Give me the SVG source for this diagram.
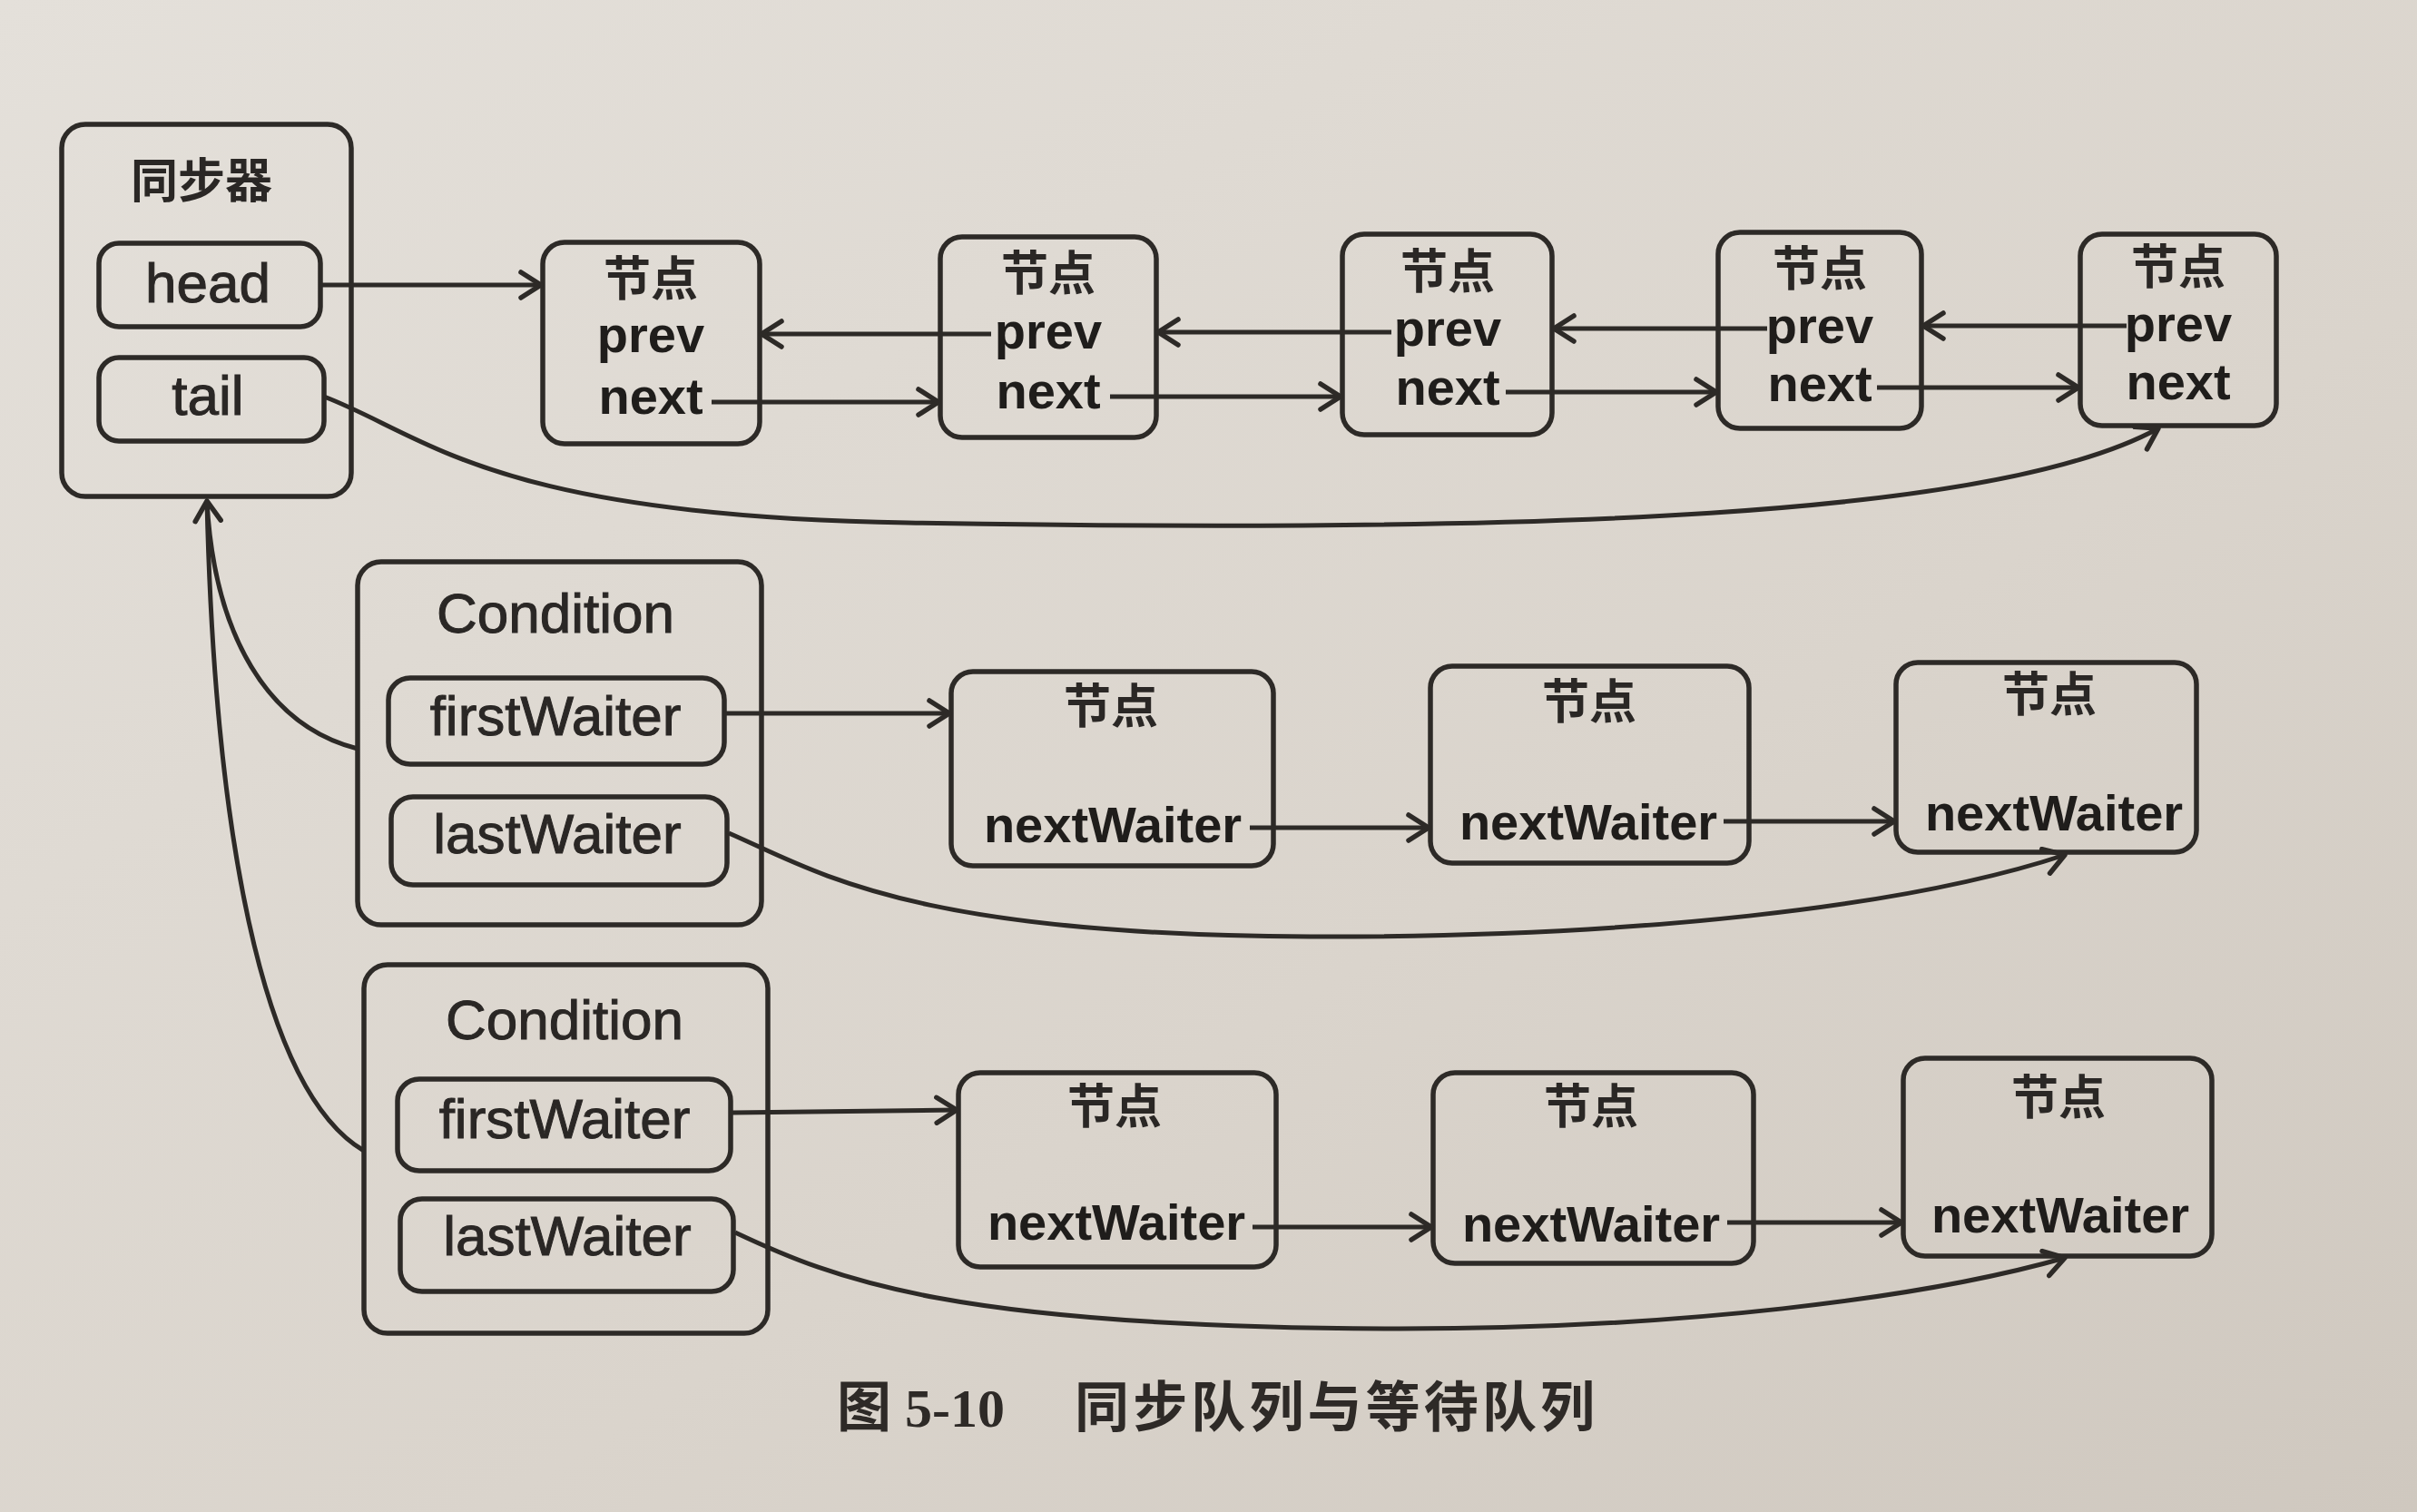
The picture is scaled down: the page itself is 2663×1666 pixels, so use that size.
<svg xmlns="http://www.w3.org/2000/svg" width="2663" height="1666" viewBox="0 0 2663 1666">
<defs>
<linearGradient id="paper" x1="0" y1="0" x2="1" y2="1">
<stop offset="0" stop-color="#e4e0da"/>
<stop offset="0.6" stop-color="#dad4cc"/>
<stop offset="1" stop-color="#cfc8bf"/>
</linearGradient>
<marker id="arr" viewBox="0 0 28 34" refX="25" refY="17" markerWidth="28" markerHeight="34" markerUnits="userSpaceOnUse" orient="auto">
<path d="M3,3 L25,17 L3,31" fill="none" stroke="#2d2a27" stroke-width="5.5" stroke-linecap="round" stroke-linejoin="round"/>
</marker>
<style>
.box{fill:none;stroke:#2d2a27;stroke-width:5.5}
.pill{fill:none;stroke:#2d2a27;stroke-width:5.5}
.ln{fill:none;stroke:#2d2a27;stroke-width:5}
.t{font-family:"Liberation Sans","DejaVu Sans",sans-serif;fill:#2a2725;text-anchor:middle;stroke:#2a2725;stroke-width:1}
.lbl{font-size:62px}
.b{font-family:"Liberation Sans",sans-serif;font-weight:bold;font-size:56px;fill:#1f1d1b;text-anchor:middle}
.cjk{font-family:"Noto Sans CJK SC",sans-serif;font-size:52px;font-weight:700;fill:#2a2725;text-anchor:middle}
.cap{font-family:"Liberation Serif","Noto Sans CJK SC",serif;font-size:60px;font-weight:bold;fill:#2e2a27}
</style>
</defs>
<rect x="0" y="0" width="2663" height="1666" fill="url(#paper)"/>

<g id="sync">
<rect class="box" x="68" y="137" width="319" height="410" rx="26"/>
<text class="cjk" x="222" y="218" font-size="54">同步器</text>
<rect class="pill" x="109" y="268" width="244" height="92" rx="22"/>
<text class="t lbl" x="229" y="333">head</text>
<rect class="pill" x="109" y="394" width="248" height="92" rx="22"/>
<text class="t lbl" x="229" y="457">tail</text>
</g>

<g id="n1">
<rect class="box" x="598" y="267" width="239" height="222" rx="24"/>
<text class="cjk" x="717" y="326">节点</text>
<text class="b" x="717" y="388">prev</text>
<text class="b" x="717" y="456">next</text>
</g>
<g id="n2">
<rect class="box" x="1036" y="261" width="238" height="221" rx="24"/>
<text class="cjk" x="1155" y="320">节点</text>
<text class="b" x="1155" y="384">prev</text>
<text class="b" x="1155" y="450">next</text>
</g>
<g id="n3">
<rect class="box" x="1479" y="258" width="231" height="221" rx="24"/>
<text class="cjk" x="1595" y="318">节点</text>
<text class="b" x="1595" y="381">prev</text>
<text class="b" x="1595" y="446">next</text>
</g>
<g id="n4">
<rect class="box" x="1893" y="256" width="224" height="216" rx="24"/>
<text class="cjk" x="2005" y="315">节点</text>
<text class="b" x="2005" y="378">prev</text>
<text class="b" x="2005" y="442">next</text>
</g>
<g id="n5">
<rect class="box" x="2292" y="258" width="216" height="211" rx="24"/>
<text class="cjk" x="2400" y="313">节点</text>
<text class="b" x="2400" y="376">prev</text>
<text class="b" x="2400" y="440">next</text>
</g>

<g id="cond1">
<rect class="box" x="394" y="619" width="445" height="400" rx="26"/>
<text class="t lbl" x="612" y="697">Condition</text>
<rect class="pill" x="428" y="747" width="370" height="95" rx="24"/>
<text class="t lbl" x="612" y="810" font-size="60">firstWaiter</text>
<rect class="pill" x="431" y="878" width="370" height="97" rx="24"/>
<text class="t lbl" x="614" y="940" font-size="60">lastWaiter</text>
</g>
<g id="a1">
<rect class="box" x="1048" y="740" width="355" height="214" rx="24"/>
<text class="cjk" x="1224" y="797">节点</text>
<text class="b" x="1226" y="928">nextWaiter</text>
</g>
<g id="a2">
<rect class="box" x="1576" y="734" width="351" height="217" rx="24"/>
<text class="cjk" x="1751" y="792">节点</text>
<text class="b" x="1750" y="925">nextWaiter</text>
</g>
<g id="a3">
<rect class="box" x="2089" y="730" width="331" height="209" rx="24"/>
<text class="cjk" x="2258" y="784">节点</text>
<text class="b" x="2263" y="915">nextWaiter</text>
</g>

<g id="cond2">
<rect class="box" x="401" y="1063" width="445" height="406" rx="26"/>
<text class="t lbl" x="622" y="1145">Condition</text>
<rect class="pill" x="438" y="1189" width="367" height="101" rx="24"/>
<text class="t lbl" x="622" y="1254" font-size="60">firstWaiter</text>
<rect class="pill" x="441" y="1321" width="367" height="102" rx="24"/>
<text class="t lbl" x="625" y="1383" font-size="60">lastWaiter</text>
</g>
<g id="b1">
<rect class="box" x="1056" y="1182" width="350" height="214" rx="24"/>
<text class="cjk" x="1228" y="1238">节点</text>
<text class="b" x="1230" y="1366">nextWaiter</text>
</g>
<g id="b2">
<rect class="box" x="1579" y="1182" width="353" height="210" rx="24"/>
<text class="cjk" x="1753" y="1238">节点</text>
<text class="b" x="1753" y="1368">nextWaiter</text>
</g>
<g id="b3">
<rect class="box" x="2097" y="1166" width="340" height="218" rx="24"/>
<text class="cjk" x="2268" y="1228">节点</text>
<text class="b" x="2270" y="1358">nextWaiter</text>
</g>

<g id="connectors">
<path class="ln" d="M355,314 L596,314" marker-end="url(#arr)"/>
<path class="ln" d="M1092,368 L839,368" marker-end="url(#arr)"/>
<path class="ln" d="M1533,366 L1276,366" marker-end="url(#arr)"/>
<path class="ln" d="M1947,362 L1712,362" marker-end="url(#arr)"/>
<path class="ln" d="M2343,359 L2119,359" marker-end="url(#arr)"/>
<path class="ln" d="M784,443 L1034,443" marker-end="url(#arr)"/>
<path class="ln" d="M1223,437 L1477,437" marker-end="url(#arr)"/>
<path class="ln" d="M1659,432 L1891,432" marker-end="url(#arr)"/>
<path class="ln" d="M2068,427 L2290,427" marker-end="url(#arr)"/>
<path class="ln" d="M357,437 C470,480 540,568 1000,576 C1700,588 2200,570 2378,472" marker-end="url(#arr)"/>
<path class="ln" d="M394,825 C295,800 236,700 228,552" marker-end="url(#arr)"/>
<path class="ln" d="M401,1268 C285,1200 236,900 228,552"/>
<path class="ln" d="M800,786 L1046,786" marker-end="url(#arr)"/>
<path class="ln" d="M1377,912 L1574,912" marker-end="url(#arr)"/>
<path class="ln" d="M1899,905 L2087,905" marker-end="url(#arr)"/>
<path class="ln" d="M803,918 C900,960 1000,1030 1443,1032 C1800,1033 2100,1000 2275,942" marker-end="url(#arr)"/>
<path class="ln" d="M807,1226 L1054,1223" marker-end="url(#arr)"/>
<path class="ln" d="M1380,1352 L1577,1352" marker-end="url(#arr)"/>
<path class="ln" d="M1903,1347 L2095,1347" marker-end="url(#arr)"/>
<path class="ln" d="M810,1358 C920,1410 1050,1462 1528,1464 C1850,1465 2120,1430 2275,1386" marker-end="url(#arr)"/>
</g>

<g id="caption">
<text class="cap" x="922" y="1572">图 5-10</text>
<text class="cap" x="1184" y="1572" textLength="573" lengthAdjust="spacing">同步队列与等待队列</text>
</g>
</svg>
